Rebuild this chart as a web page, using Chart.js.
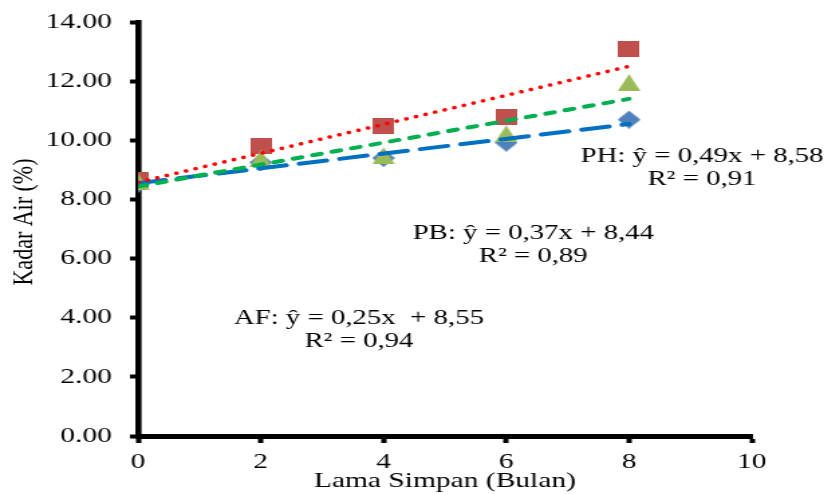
<!DOCTYPE html>
<html>
<head>
<meta charset="utf-8">
<script src="https://cdn.jsdelivr.net/npm/chart.js@4.4.1/dist/chart.umd.min.js"></script>
<style>
  body { margin: 0; background: #fff; overflow: hidden; }
  /* the original figure is stretched horizontally, so the canvas is drawn narrow and scaled */
  #wrap { width: 621px; height: 494px; transform: scaleX(1.34); transform-origin: 0 0; }
</style>
</head>
<body>
<div id="wrap"><canvas id="kadarChart" width="621" height="494"></canvas></div>
<script>
// bulan penyimpanan
const months = [0, 2, 4, 6, 8];

// kadar air (%) per perlakuan
const phValues = [8.66, 9.80, 10.48, 10.78, 13.08];
const pbValues = [8.60, 9.38, 9.47, 10.22, 11.95];
const afValues = [8.52, 9.25, 9.40, 9.92, 10.70];

// garis tren (awal dan akhir, x = 0 dan x = 8)
const trendX = [0, 8];
const phTrend = [8.58, 12.50];
const pbTrend = [8.44, 11.40];
const afTrend = [8.55, 10.55];

const xTicks = [0, 2, 4, 6, 8, 10];
const yTicks = [0, 2, 4, 6, 8, 10, 12, 14];

// teks persamaan: [baris1, baris2, x, y1, y2] in data units
const labels = [
  ['PH: ŷ = 0,49x + 8,58', 'R² = 0,91', 9.19, 9.45, 8.68],
  ['PB: ŷ = 0,37x + 8,44', 'R² = 0,89', 6.44, 6.86, 6.08],
  ['AF: ŷ = 0,25x  + 8,55', 'R² = 0,94', 3.60, 3.98, 3.20],
];

const FONT = 'Liberation Serif';

function marker(kind, color) {
  const c = document.createElement('canvas');
  const ctx = c.getContext('2d');
  if (kind === 'square') {
    c.width = 16; c.height = 16;
    ctx.fillStyle = color;
    ctx.fillRect(0, 0, 16, 16);
  } else if (kind === 'triangle') {
    c.width = 17; c.height = 17;
    ctx.fillStyle = color;
    ctx.beginPath();
    ctx.moveTo(8.5, 0); ctx.lineTo(17, 17); ctx.lineTo(0, 17);
    ctx.closePath(); ctx.fill();
  } else {
    c.width = 17; c.height = 18;
    ctx.fillStyle = color;
    ctx.beginPath();
    ctx.moveTo(8.5, 0); ctx.lineTo(17, 9); ctx.lineTo(8.5, 18); ctx.lineTo(0, 9);
    ctx.closePath(); ctx.fill();
  }
  return c;
}

const pts = (xs, ys) => xs.map((x, i) => ({ x: x, y: ys[i] }));

const equationText = {
  id: 'equationText',
  afterDatasetsDraw(chart) {
    const ctx = chart.ctx;
    const xs = chart.scales.x, ys = chart.scales.y;
    ctx.save();
    ctx.fillStyle = '#000';
    ctx.font = '21.5px "' + FONT + '"';
    ctx.textAlign = 'center';
    ctx.textBaseline = 'middle';
    labels.forEach(l => {
      const px = xs.getPixelForValue(l[2]);
      ctx.fillText(l[0], px, ys.getPixelForValue(l[3]));
      ctx.fillText(l[1], px, ys.getPixelForValue(l[4]));
    });
    // judul sumbu y
    ctx.font = '22px "' + FONT + '"';
    ctx.translate(18, 222);
    ctx.rotate(-Math.PI / 2);
    ctx.fillText('Kadar Air (%)', 0, 0);
    ctx.restore();
  }
};

new Chart(document.getElementById('kadarChart'), {
  type: 'scatter',
  data: {
    datasets: [
      {
        label: 'PH trend', type: 'line', data: pts(trendX, phTrend),
        borderColor: '#FF0000', borderWidth: 3.5, borderDash: [0.1, 7.4],
        borderCapStyle: 'round', pointRadius: 0, fill: false, order: 0
      },
      {
        label: 'PB trend', type: 'line', data: pts(trendX, pbTrend),
        borderColor: '#00B050', borderWidth: 4, borderDash: [6.4, 8.5],
        borderCapStyle: 'round', pointRadius: 0, fill: false, order: 0
      },
      {
        label: 'AF trend', type: 'line', data: pts(trendX, afTrend),
        borderColor: '#0070C0', borderWidth: 4, borderDash: [20.5, 10],
        borderCapStyle: 'round', pointRadius: 0, fill: false, order: 0
      },
      {
        label: 'PB', data: pts(months, pbValues),
        pointStyle: marker('triangle', '#9BBB59'), order: 1
      },
      {
        label: 'PH', data: pts(months, phValues),
        pointStyle: marker('square', '#C0504D'), order: 2
      },
      {
        label: 'AF', data: pts(months, afValues),
        pointStyle: marker('diamond', '#4F81BD'), order: 3
      }
    ]
  },
  options: {
    responsive: false,
    animation: false,
    layout: { padding: { top: 22, right: 60, left: 0, bottom: 0 } },
    plugins: {
      legend: { display: false },
      tooltip: { enabled: false }
    },
    scales: {
      x: {
        type: 'linear',
        min: 0, max: 10,
        afterBuildTicks: s => { s.ticks = xTicks.map(v => ({ value: v })); },
        afterFit: s => { s.height = 58; },
        border: { display: true, color: '#000', width: 5 },
        grid: { drawOnChartArea: false, drawTicks: true, tickLength: 7, tickWidth: 4, tickColor: '#000' },
        ticks: { color: '#000', padding: 6, font: { family: FONT, size: 22 }, maxRotation: 0 },
        title: { display: true, text: 'Lama Simpan (Bulan)', color: '#000', font: { family: FONT, size: 22 }, padding: 0 }
      },
      y: {
        min: 0, max: 14,
        afterBuildTicks: s => { s.ticks = yTicks.map(v => ({ value: v })); },
        afterFit: s => { s.width = 103; s.paddingTop = 0; s.paddingBottom = 0; },
        border: { display: true, color: '#000', width: 4.6 },
        grid: { drawOnChartArea: false, drawTicks: true, tickLength: 6, tickWidth: 4, tickColor: '#000' },
        ticks: { color: '#000', padding: 13.4, font: { family: FONT, size: 22, lineHeight: 0.8 }, callback: v => v.toFixed(2) },
        title: { display: false }
      }
    }
  },
  plugins: [equationText]
});
</script>
</body>
</html>
